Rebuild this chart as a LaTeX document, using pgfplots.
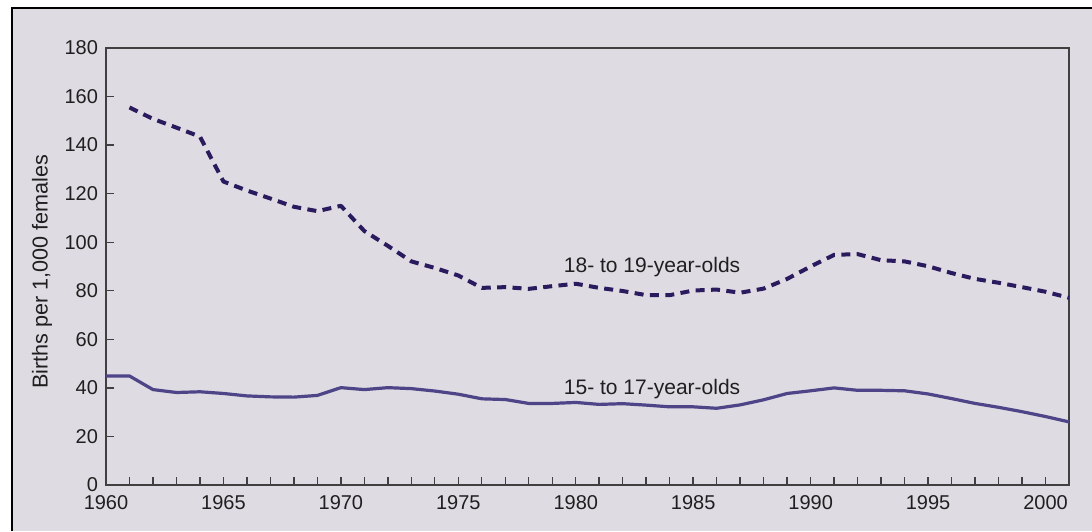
\documentclass[border=0pt]{standalone}
\usepackage{fontspec}
\setmainfont{Liberation Sans}
\usepackage{pgfplots}
\usepackage{pgfplotstable}
\pgfplotsset{compat=1.18}
\definecolor{bg}{HTML}{DEDBE2}
\definecolor{dashc}{HTML}{2A1A5E}
\definecolor{solidc}{HTML}{4E4488}
\definecolor{axc}{HTML}{404040}

\pgfplotstableread{
year val
1961 155.5
1962 150.8
1963 147.2
1964 143.5
1965 125.0
1966 121.3
1967 118.0
1968 114.6
1969 112.8
1970 115.0
1971 104.6
1972 98.5
1973 92.1
1974 89.4
1975 86.3
1976 81.2
1977 81.5
1978 80.8
1979 81.9
1980 82.9
1981 81.2
1982 79.9
1983 78.2
1984 78.2
1985 80.1
1986 80.5
1987 79.2
1988 80.9
1989 84.9
1990 90.0
1991 94.8
1992 95.1
1993 92.6
1994 92.1
1995 90.1
1996 87.3
1997 84.9
1998 83.3
1999 81.5
2000 79.6
2001 77.1
}\older

\pgfplotstableread{
year val
1960 44.9
1961 44.9
1962 39.3
1963 38.1
1964 38.4
1965 37.7
1966 36.7
1967 36.3
1968 36.2
1969 36.9
1970 40.1
1971 39.3
1972 40.1
1973 39.7
1974 38.7
1975 37.4
1976 35.5
1977 35.2
1978 33.6
1979 33.6
1980 34.0
1981 33.2
1982 33.5
1983 32.9
1984 32.2
1985 32.2
1986 31.6
1987 33.0
1988 35.1
1989 37.7
1990 38.8
1991 40.0
1992 39.0
1993 39.0
1994 38.8
1995 37.5
1996 35.6
1997 33.6
1998 32.0
1999 30.2
2000 28.2
2001 26.0
}\younger

\begin{document}
\begin{tikzpicture}
\path[use as bounding box] (0,0) rectangle (546pt,265.5pt);
\fill[bg] (6pt,0) rectangle (546pt,261.5pt);
\draw[black,line width=0.6pt] (6pt,0) -- (6pt,261.5pt) -- (546pt,261.5pt);
\begin{axis}[
  at={(53pt,23pt)}, anchor=south west,
  scale only axis, width=481.5pt, height=218.5pt,
  xmin=1960, xmax=2001, ymin=0, ymax=180,
  ytick={0,20,...,180},
  xtick={1960,1965,...,2000},
  minor xtick={1960,...,2001},
  xtick pos=bottom, ytick pos=left,
  tick align=inside,
  major tick length=4pt, minor tick length=4pt,
  axis line style={axc, line width=0.7pt},
  every tick/.style={axc, line width=0.7pt},
  tick label style={font=\fontsize{10}{12}\selectfont, text=black!88},
  /pgf/number format/assume math mode=true,
  /pgf/number format/1000 sep={},
  ylabel={Births per 1,000 females},
  ylabel style={font=\fontsize{10.8}{12}\selectfont, text=black!88, at={(axis description cs:-0.0665,0.4886)}, anchor=center},
  xticklabel style={yshift=-1.5pt},
  yticklabel style={xshift=-0.5pt},
  clip=false,
]
\addplot[dashc, line width=2pt, dash pattern=on 4.5pt off 3.2pt, line join=round] table[x=year,y=val]{\older};
\addplot[solidc, line width=1.6pt, line join=round] table[x=year,y=val]{\younger};
\node[font=\fontsize{10.5}{12}\selectfont, text=black!88] at (axis cs:1983.25,89.9) {18- to 19-year-olds};
\node[font=\fontsize{10.5}{12}\selectfont, text=black!88] at (axis cs:1983.25,39.6) {15- to 17-year-olds};
\end{axis}
\end{tikzpicture}
\end{document}
